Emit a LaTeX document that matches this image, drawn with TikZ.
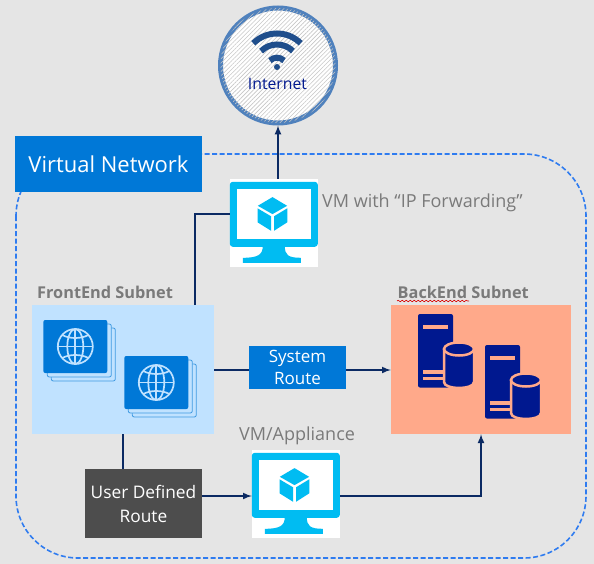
\documentclass[tikz,border=0pt]{standalone}
\usepackage{fontspec}
\setmainfont{Open Sans}
\usetikzlibrary{arrows, positioning, patterns.meta, decorations.pathmorphing}
\definecolor{pagegray}{HTML}{E5E5E5}
\definecolor{azureblue}{HTML}{0078D7}
\definecolor{vmcyan}{HTML}{00BCF2}
\definecolor{linknavy}{HTML}{0B2A63}
\definecolor{dashblue}{HTML}{2F7CF0}
\definecolor{frontblue}{HTML}{C0E2FF}
\definecolor{backsalmon}{HTML}{FFA98A}
\definecolor{serverblue}{HTML}{00188F}
\definecolor{ringblue}{HTML}{4F81BD}
\definecolor{wifiblue}{HTML}{1F4E8C}
\definecolor{udrgray}{HTML}{4D4D4D}
\tikzset{
    link/.style={draw=linknavy, line width=2pt},
    arrowlink/.style={link, -latex},
    whitebox/.style={rectangle, fill=white, inner sep=0pt, minimum size=88pt},
    subnet/.style={rectangle, inner sep=0pt, minimum width=182pt, minimum height=129pt},
    routebox/.style={rectangle, text=white, inner sep=0pt, align=center, font=\fontsize{17.3}{24}\selectfont},
    graytext/.style={text=black!52, inner sep=0pt, font=\fontsize{18}{22}\selectfont},
    subnettext/.style={text=black!52, inner sep=0pt, font=\fontsize{16.3}{20}\selectfont\bfseries},
    vmpic/.pic={
        \fill[vmcyan, rounded corners=3pt] (0,3) rectangle (88,68);
        \fill[white] (7,10) rectangle (81,60);
        \fill[vmcyan] (33,67) .. controls (33,76) and (28,79) .. (13,79) -- (13,84) -- (71,84) -- (71,79)
            .. controls (58,79) and (55,76) .. (55,67) -- cycle;
        \fill[vmcyan] (42.7,18.3) -- (57.3,27) -- (42.7,35.3) -- (28,27) -- cycle;
        \fill[vmcyan] (27.7,29.5) -- (41.3,37.5) -- (41.3,52) -- (27.7,43.5) -- cycle;
        \fill[vmcyan] (57.5,29.5) -- (44.2,37.5) -- (44.2,52) -- (57.5,43.5) -- cycle;
    },
    globepic/.pic={
        \foreach \d in {8,4} {
            \draw[azureblue!75, fill=frontblue, line width=.8pt, rounded corners=2pt]
                (\d,\d) rectangle (64+\d,53+\d);
        }
        \fill[azureblue, rounded corners=2pt] (0,0) rectangle (64,53);
        \begin{scope}[draw=frontblue, line width=1.7pt]
            \draw (32,26.5) circle [radius=17.5pt];
            \draw (32,26.5) ellipse [x radius=8pt, y radius=17.5pt];
            \draw (32,9) -- (32,44);
            \draw (15,26.5) -- (49,26.5);
            \draw (19,15) .. controls (26,19) and (38,19) .. (45,15);
            \draw (19,38) .. controls (26,34) and (38,34) .. (45,38);
        \end{scope}
    },
    serverpic/.pic={
        \fill[serverblue, rounded corners=2pt] (0,73.5) -- (0,0) -- (35,0) -- (35,73.5) -- cycle;
        \fill[backsalmon] (5.3,11) rectangle (30,14.7);
        \fill[backsalmon] (5.3,56) rectangle (26,59.5);
        \fill[backsalmon] (5.3,62.7) rectangle (26,66);
        \fill[serverblue] (26,35) -- (26,68) .. controls (26,76) and (56,76) .. (56,68) -- (56,35) -- cycle;
        \draw[backsalmon, line width=2.5pt] (26,35) -- (26,68) .. controls (26,76) and (56,76) .. (56,68) -- (56,35);
        \draw[backsalmon, fill=serverblue, line width=2.5pt] (41,35) ellipse [x radius=15pt, y radius=6.5pt];
    }
}
\begin{document}
\begin{tikzpicture}[x=1pt, y=-1pt]
    \useasboundingbox (0,0) rectangle (594,564);
    \fill[pagegray] (0,0) rectangle (594,564);
    \draw[dashblue, line width=1.6pt, dash pattern=on 5pt off 2.5pt, rounded corners=62pt] (16,154) rectangle (586,558);

    \node (VNet) [rectangle, fill=azureblue, text=white, inner sep=0pt, minimum width=187pt, minimum height=56pt,
        font=\fontsize{22}{26}\selectfont] at (108.5,164.5) {Virtual Network};

    \node (Internet) [circle, draw=ringblue, line width=5pt, fill=white, inner sep=0pt, minimum size=115pt,
        postaction={pattern={Lines[angle=45, distance=3pt, line width=.6pt]}, pattern color=black!22}] at (278,65.5) {};
    \node (InternetText) [text=serverblue, inner sep=0pt, font=\fontsize{15.8}{18}\selectfont] at (277.5,84) {Internet};
    \begin{scope}[wifiblue, line cap=butt]
        \fill (277,67) circle [radius=3pt];
        \draw[line width=6pt] (269.9,60.6) arc [start angle=135, end angle=45, radius=10pt];
        \draw[line width=6pt] (261.1,51.1) arc [start angle=135, end angle=45, radius=22.5pt];
        \draw[line width=6pt] (253.3,43.3) arc [start angle=135, end angle=45, radius=33.5pt];
    \end{scope}

    \node (VmForward) [whitebox] at (274,223) {};
    \pic at (VmForward.north west) {vmpic};
    \node (VmForwardText) [graytext, anchor=west] at (322,202.5) {VM with “IP Forwarding”};

    \node (FrontEnd) [subnet, fill=frontblue] at (123,369.5) {};
    \pic at (43.3,320) {globepic};
    \pic at (124.3,356) {globepic};
    \node (FrontEndText) [subnettext, anchor=west] at (37,292.5) {FrontEnd Subnet};

    \node (BackEnd) [subnet, fill=backsalmon, minimum width=180pt] at (481,369.5) {};
    \pic at (418,314) {serverpic};
    \pic at (485,345) {serverpic};
    \node (BackEndText) [subnettext, anchor=west] at (397.5,292.5) {BackEnd Subnet};
    \draw[red!85!black, line width=.6pt, decorate, decoration={snake, amplitude=.8pt, segment length=4pt}] (397,301) -- (469,301);

    \node (SystemRoute) [routebox, fill=azureblue, minimum width=97pt, minimum height=43pt,
        font=\fontsize{17}{22}\selectfont] at (297.5,367) {System\\Route};

    \node (UserRoute) [routebox, fill=udrgray, minimum width=117pt, minimum height=69pt] at (143.5,503.5) {User Defined\\Route};

    \node (VmAppliance) [whitebox] at (296,494) {};
    \pic at (VmAppliance.north west) {vmpic};
    \node (VmApplianceText) [graytext] at (297,435.5) {VM/Appliance};

    \draw[arrowlink] (VmForward.north -| Internet.south) -- (Internet.south);
    \draw[link] (VmForward.west |- 0,214) -| (195,305);
    \draw[link] (FrontEnd.east |- 0,370) -- (SystemRoute.west |- 0,370);
    \draw[arrowlink] (SystemRoute.east |- 0,370) -- (BackEnd.west |- 0,370);
    \draw[link] (123,434) -- (123,469);
    \draw[arrowlink] (UserRoute.east |- 0,496) -- (VmAppliance.west |- 0,496);
    \draw[arrowlink] (VmAppliance.east |- 0,496) -| (BackEnd.south);
\end{tikzpicture}
\end{document}
